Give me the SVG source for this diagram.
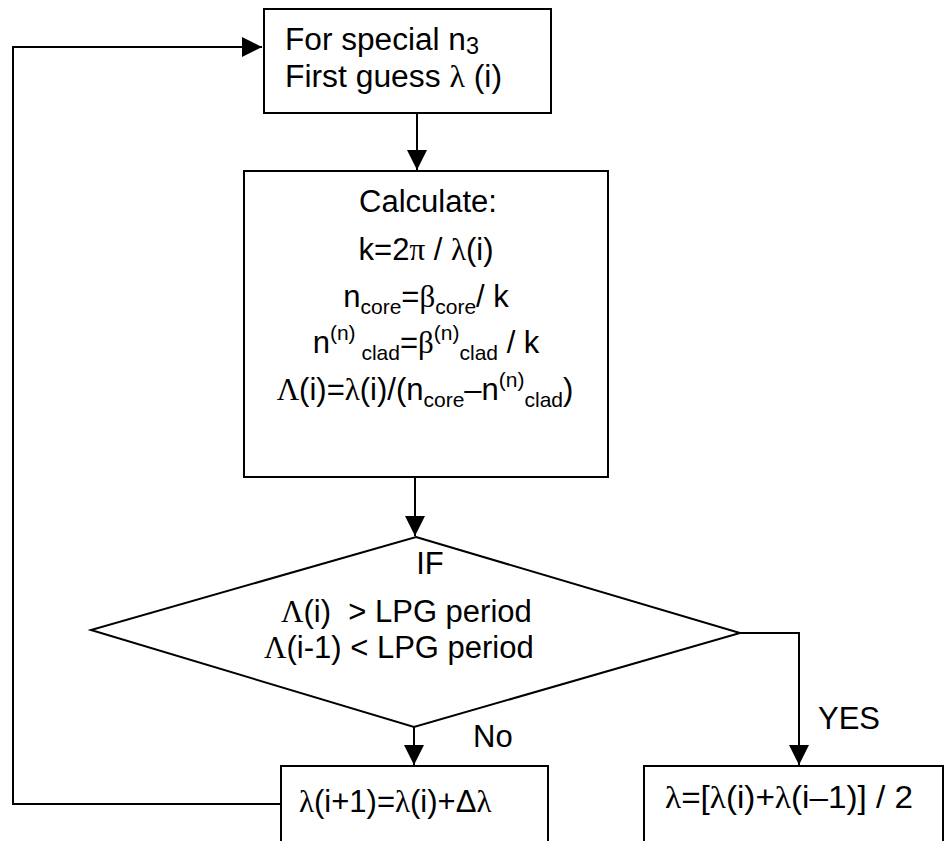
<svg xmlns="http://www.w3.org/2000/svg" width="945" height="841" viewBox="0 0 945 841">
  <style>
    .box { fill: #fff; stroke: #000; stroke-width: 2; }
    .line { fill: none; stroke: #000; stroke-width: 2; }
    text { font-family: "Liberation Sans", Arial, sans-serif; fill: #000; font-size: 31px; }
    .g { font-family: "Liberation Serif", "Times New Roman", serif; }
    .s { font-size: 21px; }
  </style>
  <defs>
    <marker id="arrow" markerUnits="userSpaceOnUse" markerWidth="22" markerHeight="22" refX="20" refY="10" orient="auto">
      <path d="M0,0 L20,10 L0,20 Z" fill="#000"/>
    </marker>
  </defs>

  <rect width="945" height="841" fill="#fff"/>

  <!-- connectors -->
  <g id="connectors">
    <polyline class="line" points="281,804 13,804 13,47 262,47" marker-end="url(#arrow)"/>
    <line class="line" x1="417" y1="113" x2="417" y2="170" marker-end="url(#arrow)"/>
    <line class="line" x1="415" y1="477" x2="415" y2="536" marker-end="url(#arrow)"/>
    <line class="line" x1="414" y1="727" x2="414" y2="765" marker-end="url(#arrow)"/>
    <polyline class="line" points="740,633 799,633 799,765" marker-end="url(#arrow)"/>
  </g>

  <!-- start box -->
  <g id="start">
    <rect class="box" x="264" y="9" width="287" height="104"/>
    <text x="285" y="50" textLength="194" lengthAdjust="spacingAndGlyphs">For special n<tspan font-size="23" dy="4">3</tspan></text>
    <text x="285" y="87" textLength="217" lengthAdjust="spacingAndGlyphs">First guess <tspan class="g">λ</tspan> (i)</text>
  </g>

  <!-- calculation box -->
  <g id="calculate">
    <rect class="box" x="244" y="171" width="364" height="306"/>
    <text x="428" y="212" text-anchor="middle">Calculate:</text>
    <text x="426" y="260" text-anchor="middle">k=2<tspan class="g">π</tspan> / <tspan class="g">λ</tspan>(i)</text>
    <text x="426" y="307" text-anchor="middle">n<tspan class="s" dy="7">core</tspan><tspan dy="-7">=</tspan><tspan class="g">β</tspan><tspan class="s" dy="7">core</tspan><tspan dy="-7">/ k</tspan></text>
    <text x="426" y="353" text-anchor="middle">n<tspan class="s" dy="-13">(n)</tspan><tspan class="s" dy="20"> clad</tspan><tspan dy="-7">=</tspan><tspan class="g">β</tspan><tspan class="s" dy="-13">(n)</tspan><tspan class="s" dy="20">clad</tspan><tspan dy="-7"> / k</tspan></text>
    <text x="425" y="400" text-anchor="middle"><tspan class="g">Λ</tspan>(i)=<tspan class="g">λ</tspan>(i)/(n<tspan class="s" dy="7">core</tspan><tspan dy="-7">–n</tspan><tspan class="s" dy="-13">(n)</tspan><tspan class="s" dy="20">clad</tspan><tspan dy="-7">)</tspan></text>
  </g>

  <!-- decision -->
  <g id="decision">
    <polygon class="box" points="416,537 740,633 414,727 91,630"/>
    <text x="430" y="574" text-anchor="middle">IF</text>
    <text x="281" y="622" xml:space="preserve"><tspan class="g">Λ</tspan>(i)  &gt; LPG period</text>
    <text x="264" y="658"><tspan class="g">Λ</tspan>(i-1) &lt; LPG period</text>
  </g>

  <!-- branch labels -->
  <g id="labels">
    <text x="473" y="747">No</text>
    <text x="818" y="729">YES</text>
  </g>

  <!-- next step box -->
  <g id="step">
    <rect class="box" x="281" y="766" width="267" height="90"/>
    <text x="299" y="812"><tspan class="g">λ</tspan>(i+1)=<tspan class="g">λ</tspan>(i)+Δ<tspan class="g">λ</tspan></text>
  </g>

  <!-- result box -->
  <g id="result">
    <rect class="box" x="644" y="766" width="299" height="90"/>
    <text x="665" y="808" textLength="248" lengthAdjust="spacingAndGlyphs"><tspan class="g">λ</tspan>=[<tspan class="g">λ</tspan>(i)+<tspan class="g">λ</tspan>(i–1)] / 2</text>
  </g>
</svg>
